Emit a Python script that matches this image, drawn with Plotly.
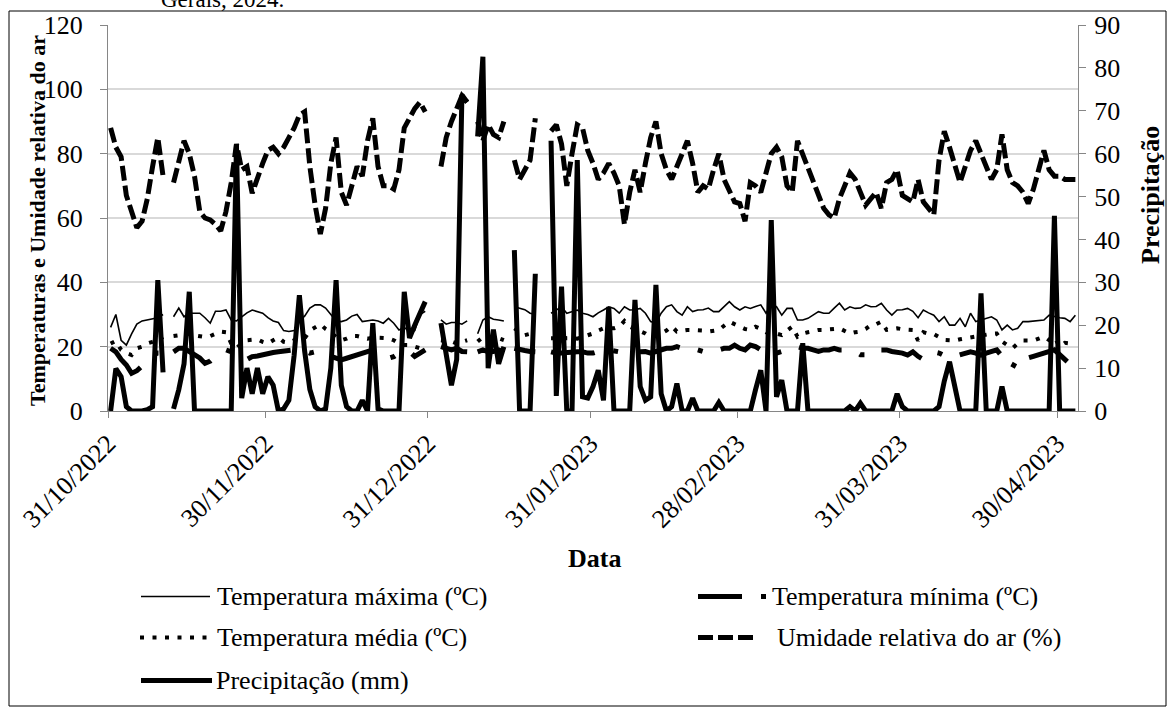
import pandas as pd
import plotly.graph_objects as go

# ---------------- data (daily, from 31/10/2022) ----------------
START_DATE = "2022-10-31"

temp_max = [
    26, 30, 22, 20.5, 24, 27, 28, 28.3, 28.5, 29, 30, None, 29.3, 32, 29.3, 30.4, 30.4, 30.4, 29, 27.3,
    31, 31, 31.4, 28.3, 28, 29.3, 30.5, 31.4, 31, 30.4, 29, 28, 27.5, 25, 24.7, 25, 28, 29.5, 32, 33,
    33, 32, 30, 28, 27.8, 28.3, 29.5, 30, 27.8, 28, 28.3, 28, 27.3, 28.8, 27.3, 25.2, 26, 24.7, 25, 30,
    31, None, None, 28.3, 27, 27.5, 27.5, 27, 28, None, 24, 28.3, 29.3, 28.5, 28.3, 28, None, 32.4, 31.9, 31.5,
    30.4, 30, None, None, 30.4, 31.5, 32.4, 30.4, 31, 31.4, 30.4, 30, 29.3, 30.5, 31.4, 32.4, 31.9, 30.4, 32.4, 31.4,
    31.5, 31.9, 30.4, 27.8, 27.3, 30.4, 32.4, 33, 30.9, 29.8, 32.4, 30.9, 31.4, 31.5, 32, 30.9, 30.9, 32.4, 34, 32.4,
    31.4, 32.4, 31.9, 32.5, 33, 30.4, 33, 32.4, 29.8, 31.9, 31.9, 28.3, 28.3, 28.8, 29.8, 30.9, 30.4, 30.4, 32, 33.5,
    31.4, 32.4, 31.9, 32, 33, 32.4, 32.5, 33.5, 31.4, 29.8, 31.4, 31.5, 31.9, 31, 29, 31.4, 30.5, 29.8, 27.8, 29.3,
    26.7, 26.7, 28.8, 26.2, 30.4, 27.8, 28.3, 28.8, 29.3, 28.3, 25.2, 26.7, 25.2, 25.7, 27.8, 27.8, 28, 28.3, 28.3, 29.8,
    29.3, 29, 28.8, 27.8, 29.8,
]

temp_min = [
    19.5, 18.4, 16, 14.3, 11.7, 12.5, 14, 16.5, 17.5, 18, 18, None, 18.4, 19.5, 19.5, 18.5, 17.9, 16.5, 14.8, 15.5,
    17, 18, 19, 18.4, 17.5, 16.4, 16, 16.9, 17.1, 17.5, 18, 18.2, 18.4, 18.7, 19, 19, 19, 18.8, 18, 18.4,
    17.4, 17.4, 17, 16.4, 15.9, 16.4, 16.9, 17.4, 18, 18.5, 19, 18, 17, 16.4, 16.9, 18, 18.5, 18.5, 17, 18,
    19, None, None, 20, 19.5, 19, 19.5, 18.5, 18.4, None, 18.4, 19, 18.4, 18.5, 19, 18.4, None, 19.5, 19, 18.8,
    18.5, 18.4, None, None, 18.4, 18, 18, 18.2, 18.4, 18.4, 18.4, 18, 18, 18.4, 19, 19, 18.5, 18.4, 18.5, 18.4,
    18.5, 18.4, 18.5, 18, 18.5, 19, 19.5, 19.5, 20, 19.5, 20, 19.5, 19, 18.5, 18, 18.5, 19, 19.5, 19.5, 20.5,
    19.5, 19, 20.5, 20, 19, 19, 19.5, 18, 18.5, 19.5, 20, 20, 19.5, 19.5, 19, 18.5, 19, 19, 19.5, 19,
    19, 18.5, 18.5, 17.5, 17.5, 18.5, 19.5, 19, 19, 18.5, 18.4, 18, 17.4, 18.4, 17, 16, 17, 18.4, 18, 17,
    16.4, 17, 17.4, 18, 18.4, 18, 17.4, 18, 18.5, 19, 17, 14.5, 13.5, 16.5, 15.5, 16.5, 17, 17.5, 18, 18.5,
    19, 17.5, 15.9, 14.5, 13.8,
]

temp_med = [
    21, 21.8, 19, 18, 17.4, 19.5, 20, 21, 21.5, 22, 23, None, 23.3, 23.5, 24, 24, 23.5, 23.2, 23, 23.3,
    24, 24.7, 24.5, 21, 19.5, 21, 22, 22.3, 22.3, 21.5, 21, 22, 22.9, 21.5, 21.2, 22, 22.6, 22.6, 25, 26,
    27, 25.5, 24.5, 23, 22, 22.5, 23.3, 23.3, 22.9, 22.5, 22.8, 22.9, 22.7, 22.6, 22, 21, 20.5, 20.5, 20, 19.5,
    20.5, None, None, 22, 21.8, 21.6, 21, 21.6, 22, None, 21.6, 23, 22.6, 23, 22.6, 22, None, 25.7, 24.5, 23.6,
    24, 24.5, None, None, 22.6, 22.6, 23, 22.6, 22.6, 22.5, 23, 23.5, 24.1, 25, 25.7, 25.7, 25.7, 26.2, 28, 26.2,
    25.5, 25, 24.1, 23, 23.5, 24.1, 25, 26.4, 24.7, 25, 25.2, 25.2, 25.2, 25, 24.7, 25, 25.2, 26.5, 27.8, 27,
    26.2, 25.5, 25.2, 26.2, 25.5, 24.5, 24.5, 24, 23.6, 25, 26.2, 23.1, 24.1, 24.5, 25, 25.2, 25.2, 25.2, 25.5, 25.7,
    25, 24.1, 24.5, 24.7, 25.5, 26.7, 27, 27.8, 25.2, 25.5, 25.7, 25.4, 25.4, 25.2, 21.9, 24.5, 24, 23.9, 23, 22.1,
    22, 21.9, 22.3, 22.6, 23, 23.3, 23.5, 23.6, 24, 24.1, 21.6, 20.5, 19.5, 21, 21.9, 21.9, 21.9, 22.5, 23.1, 22,
    23, 20, 21.2, 21, 21,
]

umidade = [
    88, 82, 79, 67, 62, 57, 59, 66, 76, 85, 73, None, 71, 77, 84, 80, 73, 62, 60, 59.4,
    58, 56, 62, 71, 83, 75, 76, 67.7, 73, 77, 81, 82, 80, 82, 85, 88, 92, 93, 76, 64,
    55, 63, 77, 85, 68, 64, 70, 76, 73, 84, 91, 76, 70, 70, 69, 75, 88, 91, 94, 96,
    93, None, None, 76, 85, 90, 94, 98, 96, None, 90, 84, 89, 86, 85, 90, None, 78, 72, 75,
    78, 91, None, None, 87, 89, 83, 70, 80, 89, 88, 81, 77, 72, 74, 77, 74, 70, 58, 68,
    75, 68, 77, 85, 90, 80, 75, 72, 76, 80, 84, 77, 68, 70, 69, 75, 80, 72, 68, 65,
    64.5, 59, 71, 70, 68, 74, 80, 82, 79, 70, 68, 84, 80, 76, 72, 67, 63, 61, 60, 66,
    70, 74, 72, 68, 64, 66, 68, 63, 71, 72, 75, 67, 66, 65, 72, 65, 63, 61, 78, 87,
    82, 76, 71, 76, 81, 84, 80, 77, 72, 75, 86, 75, 71, 70, 68, 64.5, 69, 75, 81, 75,
    73, 73, 72, 72, 72,
]

precipitacao = [
    0, 9.9, 8, 1, 0, 0, 0, 0.3, 1, 30.5, 9, None, 0.5, 5, 11, 27.8, 0, 0, 0, 0,
    0, 0, 0, 0, 62, 3, 10, 4, 10, 4, 8, 6, 0, 0.5, 2.5, 13, 27, 14, 5, 1,
    0, 0.5, 10, 30.5, 6, 1, 0, 0, 2.5, 0, 20.5, 0.5, 0, 0, 0, 0, 27.8, 17, 20, 22.5,
    25.5, None, None, 20.5, 13, 6, 12, 73.7, 72, None, 64, 82.6, 10, 19, 11, 15, None, 37.5, 0, 0,
    0, 32, None, None, 63, 3.5, 29, 0, 0, 58.5, 3.3, 3, 5.7, 9.5, 2.5, 24.3, 0, 0, 0, 0,
    25.9, 5.7, 2.5, 3.3, 29.4, 4, 0, 1, 6.4, 0, 0, 3, 0, 0, 0, 0, 2, 0, 0, 0,
    0, 0, 0, 5, 9.5, 0, 44.5, 3.3, 7.2, 0, 0, 0, 15.8, 0, 0, 0, 0, 0, 0, 0,
    0, 1, 0, 1.8, 0, 0, 0, 0, 0, 0, 4, 1, 0, 0, 0, 0, 0, 0, 1, 7,
    11.5, 5, 0, 0, 0, 0, 27.4, 0, 0, 0, 5.7, 0, 0, 0, 0, 0, 0, 0, 0, 0,
    45.5, 0, 0, 0, 0,
]

tick_dates = ["2022-10-31", "2022-11-30", "2022-12-31", "2023-01-31",
              "2023-02-28", "2023-03-31", "2023-04-30"]
tick_labels = ["31/10/2022", "30/11/2022", "31/12/2022", "31/01/2023",
               "28/02/2023", "31/03/2023", "30/04/2023"]
axis_range = ["2022-10-31", "2023-05-04"]

names = ["Temperatura máxima (ºC)", "Temperatura mínima (ºC)", "Temperatura média (ºC)",
         "Umidade relativa do ar (%)", "Precipitação (mm)"]

# ---------------- figure ----------------
FONT = "Liberation Serif, Times New Roman, serif"
# Excel 'between tick marks' date axis: each day is drawn at the middle of its slot
dates = pd.date_range(START_DATE, periods=len(temp_max), freq="D") + pd.Timedelta(hours=12)

styles = {
    "tmax": dict(color="black", width=1.6),
    "tmin": dict(color="black", width=5, dash="44px,19px,5px,19px"),
    "tmed": dict(color="black", width=4, dash="4px,8.5px"),
    "ur": dict(color="black", width=5, dash="15px,5px"),
    "prec": dict(color="black", width=5),
}

fig = go.Figure()
fig.add_trace(go.Scatter(x=dates, y=temp_max, mode="lines", name=names[0], line=styles["tmax"], showlegend=False))
fig.add_trace(go.Scatter(x=dates, y=temp_min, mode="lines", name=names[1], line=styles["tmin"], showlegend=False))
fig.add_trace(go.Scatter(x=dates, y=temp_med, mode="lines", name=names[2], line=styles["tmed"], showlegend=False))
fig.add_trace(go.Scatter(x=dates, y=umidade, mode="lines", name=names[3], line=styles["ur"], showlegend=False))
fig.add_trace(go.Scatter(x=dates, y=precipitacao, mode="lines", name=names[4], line=styles["prec"],
                         yaxis="y2", showlegend=False, cliponaxis=False))

W, H = 1171, 709
L, R, T, B = 108, 1078, 25, 411
pw, ph = R - L, B - T


def px(xp):
    return (xp - L) / pw


def py(yp):
    return (B - yp) / ph


axis_grey = "#868686"
fig.update_layout(
    width=W, height=H,
    margin=dict(l=L, r=W - R, t=T, b=H - B),
    paper_bgcolor="white", plot_bgcolor="white",
    font=dict(family=FONT, color="black", size=26),
    xaxis=dict(type="date", range=axis_range, tickvals=tick_dates, ticktext=tick_labels,
               tickangle=-45, ticks="outside", ticklen=6, tickcolor=axis_grey, tickwidth=1,
               showline=True, linecolor=axis_grey, linewidth=1, showgrid=False, zeroline=False,
               tickfont=dict(size=26, family=FONT)),
    yaxis=dict(range=[0, 120], dtick=20, tick0=0, showgrid=True, gridcolor="#d9d9d9", gridwidth=1.5,
               showline=True, linecolor=axis_grey, linewidth=1, ticks="outside", ticklen=7,
               tickcolor=axis_grey, zeroline=False, tickfont=dict(size=26, family=FONT),
               ticklabelstandoff=12),
    yaxis2=dict(range=[0, 90], dtick=10, tick0=0, overlaying="y", side="right", showgrid=False,
                showline=True, linecolor=axis_grey, linewidth=1, ticks="outside", ticklen=7,
                tickcolor=axis_grey, zeroline=False, tickfont=dict(size=26, family=FONT),
                ticklabelstandoff=3),
    showlegend=False,
)

shapes = [
    # outer chart frame
    dict(type="rect", xref="paper", yref="paper", x0=px(9), x1=px(1166), y0=py(706), y1=py(11),
         line=dict(color="black", width=1), fillcolor="rgba(0,0,0,0)", layer="below"),
]

# custom two-column legend (Excel style)
legend_items = [
    (names[0], styles["tmax"], 141, 210, 596.5, 216),
    (names[1], styles["tmin"], 698, 770, 596.5, 771),
    (names[2], styles["tmed"], 140, 209, 637.5, 216),
    (names[3], styles["ur"], 698, 755, 637.5, 776),
    (names[4], styles["prec"], 141, 212, 680.5, 215),
]
annotations = []
for label, st, xa, xb, yy, xt in legend_items:
    shapes.append(dict(type="line", xref="paper", yref="paper", x0=px(xa), x1=px(xb),
                       y0=py(yy), y1=py(yy), line=st))
    annotations.append(dict(text=label, xref="paper", yref="paper", x=px(xt), y=py(yy),
                            xanchor="left", yanchor="middle", showarrow=False, borderpad=0,
                            font=dict(size=26, family=FONT, color="black")))

annotations += [
    dict(text="<b>Data</b>", xref="paper", yref="paper", x=px(594), y=py(558),
         xanchor="center", yanchor="middle", showarrow=False, font=dict(size=26, family=FONT)),
    dict(text="<b>Temperaturas e Umidade relativa do ar</b>", xref="paper", yref="paper",
         x=px(37), y=py(221), xanchor="center", yanchor="middle", textangle=-90, showarrow=False,
         font=dict(size=22, family=FONT)),
    dict(text="<b>Precipitação</b>", xref="paper", yref="paper", x=px(1150), y=py(195),
         xanchor="center", yanchor="middle", textangle=-90, showarrow=False,
         font=dict(size=26, family=FONT)),
    # partly visible caption line at the very top of the page (cut off, as in the source)
    dict(text="Gerais, 2024.", xref="paper", yref="paper", x=px(160), y=py(13),
         xanchor="left", yanchor="bottom", showarrow=False, borderpad=0,
         font=dict(size=23, family=FONT)),
]

fig.update_layout(shapes=shapes, annotations=annotations)
fig.write_html("out.html")
